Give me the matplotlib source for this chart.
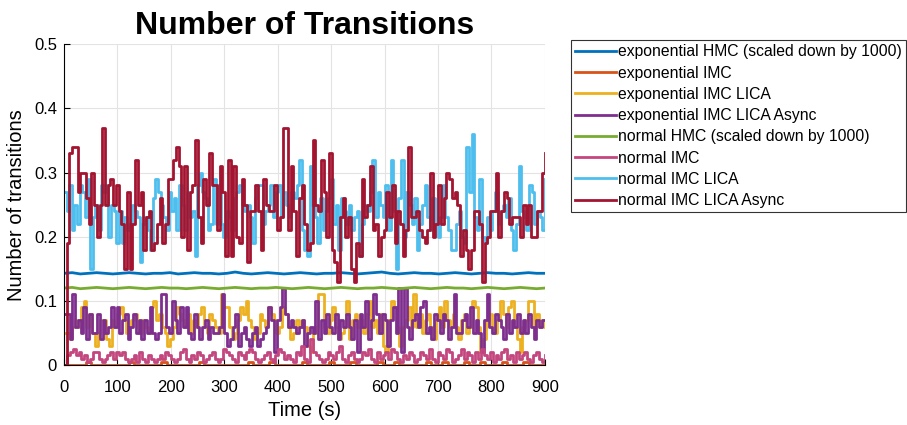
import numpy as np
import matplotlib
matplotlib.use("Agg")
import matplotlib.pyplot as plt

plt.rcParams['font.family'] = ['Liberation Sans', 'DejaVu Sans']

# transitions per sample, HMC runs already divided by 1000
exp_hmc = [0.143, 0.144, 0.142, 0.143, 0.144, 0.143, 0.142, 0.143, 0.144, 0.143,
           0.142, 0.143, 0.143, 0.144, 0.142, 0.143, 0.144, 0.143, 0.143, 0.142,
           0.143, 0.145, 0.143, 0.142, 0.143, 0.144, 0.143, 0.142, 0.143, 0.144,
           0.143, 0.142, 0.143, 0.143, 0.144, 0.143, 0.142, 0.143, 0.144, 0.145,
           0.143, 0.142, 0.143, 0.144, 0.143, 0.143, 0.142, 0.143, 0.144, 0.143,
           0.142, 0.143, 0.144, 0.143, 0.143, 0.142, 0.143, 0.144, 0.143, 0.143]

exp_imc = [0, 0, 0, 0, 0.005, 0, 0, 0, 0, 0, 0, 0, 0.005, 0, 0, 0, 0, 0, 0.005, 0,
           0, 0, 0, 0, 0, 0.005, 0, 0, 0, 0, 0, 0, 0, 0, 0.005, 0, 0, 0, 0.005, 0,
           0, 0, 0, 0, 0.005, 0, 0, 0, 0, 0.005, 0, 0, 0, 0.005, 0, 0, 0, 0, 0.005, 0,
           0, 0.005, 0, 0, 0, 0, 0, 0.005, 0, 0, 0.005, 0, 0, 0, 0.005, 0, 0, 0.005, 0, 0,
           0, 0.005, 0, 0, 0, 0.005, 0, 0, 0, 0]

exp_lica = [0.05, 0.05, 0.04, 0.06, 0.07, 0.06, 0.09, 0.10, 0.06, 0.08, 0.05, 0.03, 0.05, 0.07, 0.07,
            0.04, 0.03, 0.07, 0.06, 0.08, 0.09, 0.07, 0.05, 0.06, 0.07, 0.08, 0.06, 0.05, 0.07, 0.06,
            0.05, 0.09, 0.10, 0.07, 0.08, 0.06, 0.05, 0.03, 0.04, 0.06, 0.09, 0.08, 0.07, 0.06, 0.08,
            0.05, 0.07, 0.06, 0.08, 0.09, 0.06, 0.05, 0.08, 0.07, 0.06, 0.05, 0.11, 0.09, 0.09, 0.06,
            0.04, 0.05, 0.07, 0.09, 0.08, 0.10, 0.07, 0.06, 0.04, 0.05, 0.08, 0.07, 0.06, 0.09, 0.08,
            0.07, 0.05, 0.06, 0.09, 0.08, 0.06, 0.04, 0.05, 0.07, 0.06, 0.07, 0.06, 0.03, 0.02, 0.05,
            0.06, 0.11, 0.11, 0.06, 0.05, 0.07, 0.09, 0.06, 0.04, 0.05, 0.06, 0.10, 0.04, 0.07, 0.08,
            0.06, 0.07, 0.05, 0.08, 0.10, 0.06, 0.07, 0.05, 0.08, 0.03, 0.02, 0.07, 0.10, 0.09, 0.06,
            0.03, 0.06, 0.07, 0.09, 0.06, 0.11, 0.06, 0.08, 0.05, 0.07, 0.08, 0.06, 0.04, 0.07, 0.09,
            0.06, 0.10, 0.07, 0.06, 0.08, 0.06, 0.04, 0.07, 0.08, 0.05, 0.06, 0.10, 0.09, 0.06, 0.02,
            0.04, 0.07, 0.08, 0.06, 0.05, 0.07, 0.10, 0.08, 0.06, 0.09, 0.10, 0.06, 0.04, 0.02, 0.06,
            0.07, 0.10, 0.10, 0.06, 0.08, 0.06, 0.07, 0.06]

exp_async = [0.08, 0.08, 0.04, 0.11, 0.06, 0.07, 0.05, 0.09, 0.04, 0.08, 0.05, 0.05, 0.08, 0.04, 0.07,
             0.05, 0.06, 0.09, 0.06, 0.09, 0.05, 0.07, 0.08, 0.04, 0.06, 0.08, 0.05, 0.07, 0.04, 0.07,
             0.05, 0.09, 0.05, 0.04, 0.05, 0.11, 0.11, 0.06, 0.05, 0.10, 0.07, 0.05, 0.09, 0.06, 0.09,
             0.05, 0.04, 0.08, 0.06, 0.04, 0.06, 0.07, 0.04, 0.06, 0.05, 0.05, 0.06, 0.11, 0.05, 0.03,
             0.04, 0.06, 0.08, 0.03, 0.05, 0.06, 0.04, 0.03, 0.05, 0.06, 0.03, 0.04, 0.05, 0.06, 0.09,
             0.07, 0.02, 0.07, 0.09, 0.12, 0.08, 0.06, 0.07, 0.06, 0.05,
             0.06, 0.07, 0.03, 0.05, 0.06, 0.05, 0.10, 0.04, 0.07, 0.05, 0.08, 0.06, 0.05, 0.08, 0.04,
             0.07, 0.06, 0.08, 0.06, 0.04, 0.07, 0.02, 0.08, 0.06, 0.10, 0.04, 0.07, 0.11, 0.08, 0.05,
             0.08, 0.07, 0.03, 0.07, 0.09, 0.05, 0.12, 0.02, 0.12, 0.06, 0.04, 0.07, 0.08, 0.06, 0.09,
             0.10, 0.05, 0.06, 0.04, 0.08, 0.07, 0.05, 0.08, 0.07, 0.04, 0.06, 0.11, 0.05, 0.05, 0.07,
             0.08, 0.06, 0.09, 0.05, 0.07, 0.05, 0.02, 0.07, 0.11, 0.06, 0.05, 0.08, 0.07, 0.06, 0.04,
             0.08, 0.05, 0.07, 0.06, 0.08, 0.05, 0.07, 0.05, 0.08, 0.06, 0.04, 0.07, 0.06, 0.07, 0.07]

norm_hmc = [0.120, 0.121, 0.119, 0.120, 0.121, 0.120, 0.119, 0.120, 0.121, 0.120,
            0.119, 0.120, 0.121, 0.120, 0.120, 0.119, 0.120, 0.121, 0.120, 0.119,
            0.120, 0.121, 0.120, 0.119, 0.120, 0.120, 0.121, 0.120, 0.119, 0.120,
            0.121, 0.120, 0.119, 0.120, 0.121, 0.120, 0.119, 0.120, 0.120, 0.121,
            0.120, 0.119, 0.120, 0.121, 0.120, 0.119, 0.120, 0.121, 0.120, 0.120,
            0.119, 0.120, 0.121, 0.120, 0.119, 0.120, 0.121, 0.120, 0.119, 0.120]

norm_imc = [0.0, 0.015, 0.02, 0.025, 0.015, 0.02, 0.01, 0.015, 0.005, 0.01, 0.02, 0.02, 0.01, 0.005,
            0.01, 0.015, 0.02, 0.01, 0.02, 0.015, 0.02, 0.01, 0.005, 0.01, 0.015, 0.005, 0.02, 0.01,
            0.005, 0.015, 0.01, 0.005, 0.01, 0.015, 0.01, 0.02, 0.015, 0.01, 0.005, 0.01, 0.02, 0.025,
            0.01, 0.005, 0.015, 0.01, 0.02, 0.015, 0.005, 0.01, 0.015, 0.02, 0.01, 0.005, 0.01, 0.025,
            0.02, 0.015, 0.01, 0.005, 0.02, 0.015, 0.01, 0.02, 0.025, 0.02, 0.01, 0.005, 0.01, 0.015,
            0.02, 0.01, 0.005, 0.015, 0.025, 0.02, 0.01, 0.015, 0.01, 0.005, 0.02, 0.015, 0.03, 0.01,
            0.005, 0.04, 0.02, 0.015, 0.01, 0.005, 0.01, 0.02, 0.015, 0.01, 0.02, 0.03, 0.01, 0.005,
            0.015, 0.02, 0.01, 0.005, 0.01, 0.02, 0.015, 0.025, 0.01, 0.005, 0.02, 0.01, 0.015, 0.02,
            0.01, 0.025, 0.02, 0.01, 0.005, 0.015, 0.01, 0.02, 0.015, 0.005, 0.01, 0.02, 0.015, 0.01,
            0.025, 0.01, 0.005, 0.02, 0.015, 0.01, 0.025, 0.02, 0.005, 0.01, 0.015, 0.025, 0.01, 0.02,
            0.015, 0.005, 0.02, 0.01, 0.025, 0.015, 0.01, 0.02, 0.005, 0.015, 0.01, 0.02, 0.025, 0.01,
            0.015, 0.005, 0.02, 0.01, 0.015, 0.02, 0.01, 0.005, 0.015, 0.02, 0.01, 0.005, 0.015]

norm_lica = [0.27, 0.24, 0.28, 0.21, 0.25, 0.22, 0.28, 0.27, 0.23, 0.29, 0.15, 0.23, 0.25, 0.21, 0.28,
             0.27, 0.28, 0.20, 0.25, 0.24, 0.19, 0.24, 0.19, 0.23, 0.21, 0.22, 0.25, 0.24, 0.23, 0.16,
             0.22, 0.23, 0.21, 0.18, 0.26, 0.29, 0.27, 0.25, 0.23, 0.21, 0.27, 0.24, 0.26, 0.21, 0.28,
             0.25, 0.21, 0.27, 0.23, 0.24, 0.17, 0.28, 0.30, 0.27, 0.26, 0.21, 0.22, 0.29, 0.22, 0.28,
             0.22, 0.20, 0.24, 0.23, 0.21, 0.26, 0.27, 0.28, 0.25, 0.24, 0.25, 0.23, 0.19, 0.26, 0.28,
             0.28, 0.22, 0.24, 0.25, 0.28, 0.23, 0.27, 0.28, 0.23, 0.27, 0.25, 0.23, 0.27, 0.26, 0.28,
             0.32, 0.21, 0.18, 0.17, 0.31, 0.25, 0.23, 0.19, 0.26, 0.21, 0.24, 0.26, 0.29, 0.22, 0.25,
             0.18, 0.26, 0.24, 0.22, 0.25, 0.21, 0.23, 0.24, 0.17, 0.22, 0.25, 0.24, 0.27, 0.32, 0.23,
             0.27, 0.25,
             0.23, 0.28, 0.21, 0.32, 0.24, 0.15, 0.26, 0.32, 0.20, 0.27, 0.25, 0.22, 0.26, 0.18, 0.22,
             0.25, 0.28, 0.23, 0.21, 0.26, 0.22, 0.20, 0.23, 0.28, 0.23, 0.21, 0.18, 0.18, 0.22, 0.24,
             0.20, 0.19, 0.34, 0.27, 0.36, 0.23, 0.21, 0.29, 0.20, 0.19, 0.23, 0.21, 0.24, 0.27, 0.22,
             0.24, 0.25, 0.23, 0.26, 0.21, 0.18, 0.22, 0.31, 0.24, 0.23, 0.21, 0.28, 0.27, 0.22, 0.24,
             0.23, 0.21, 0.29]

norm_async = [0.0, 0.19, 0.33, 0.34, 0.34, 0.27, 0.30, 0.30, 0.26, 0.22, 0.30, 0.25, 0.20, 0.25, 0.37,
              0.25, 0.28, 0.29, 0.25, 0.28, 0.24, 0.22, 0.15, 0.27, 0.15, 0.22, 0.32, 0.25, 0.27, 0.18,
              0.23, 0.24, 0.18, 0.19, 0.22, 0.26, 0.19, 0.22, 0.29, 0.29, 0.32, 0.34, 0.31, 0.20, 0.31,
              0.18, 0.27, 0.28, 0.35, 0.23, 0.19, 0.29, 0.25, 0.33, 0.28, 0.28, 0.21, 0.31, 0.27, 0.17,
              0.32,
              0.17, 0.31, 0.20, 0.19, 0.29, 0.25, 0.16, 0.24, 0.24, 0.28, 0.24, 0.18, 0.29, 0.25, 0.24,
              0.24, 0.28, 0.21, 0.23, 0.37, 0.37, 0.21, 0.31, 0.24, 0.17, 0.26, 0.28, 0.22, 0.18, 0.19,
              0.35, 0.25, 0.24, 0.32, 0.27, 0.20, 0.33, 0.18, 0.16, 0.13, 0.23, 0.26, 0.20, 0.23, 0.15,
              0.13, 0.19, 0.17, 0.29, 0.23, 0.25, 0.31, 0.21,
              0.22, 0.17, 0.20, 0.21, 0.27, 0.23, 0.28, 0.19, 0.24, 0.22, 0.17, 0.21, 0.34, 0.23, 0.23,
              0.24, 0.21, 0.20, 0.19, 0.21, 0.30, 0.20, 0.22, 0.28, 0.22, 0.26, 0.30, 0.29, 0.26, 0.27,
              0.25, 0.17, 0.21, 0.18, 0.15, 0.18, 0.24, 0.24, 0.22, 0.13, 0.19, 0.20, 0.24, 0.24, 0.30,
              0.20, 0.24, 0.27, 0.26, 0.22, 0.23, 0.23, 0.23, 0.20, 0.25, 0.22, 0.25, 0.20, 0.20, 0.24,
              0.24, 0.30, 0.33]

series = [
    ("exponential HMC (scaled down by 1000)", exp_hmc, "#0072BD", False),
    ("exponential IMC", exp_imc, "#D95319", True),
    ("exponential IMC LICA", exp_lica, "#EDB120", True),
    ("exponential IMC LICA Async", exp_async, "#7E2F8E", True),
    ("normal HMC (scaled down by 1000)", norm_hmc, "#77AC30", False),
    ("normal IMC", norm_imc, "#C4467F", True),
    ("normal IMC LICA", norm_lica, "#4DBEEE", True),
    ("normal IMC LICA Async", norm_async, "#A2142F", True),
]

fig = plt.figure(figsize=(9.07, 4.25), dpi=100)
ax = fig.add_axes([0.0706, 0.141, 0.530, 0.755])

for name, vals, col, stepped in series:
    t = np.linspace(0, 900, len(vals))
    if stepped:
        ax.plot(t, vals, color=col, lw=2.0, drawstyle='steps-post', label=name)
    else:
        ax.plot(t, vals, color=col, lw=2.0, label=name)

ax.set_xlim(0, 900)
ax.set_ylim(0, 0.5)
ax.set_xticks(np.arange(0, 901, 100))
ax.set_yticks([0, 0.1, 0.2, 0.3, 0.4, 0.5])
ax.set_yticklabels(['0', '0.1', '0.2', '0.3', '0.4', '0.5'])
ax.grid(True, color='#e3e3e3', lw=0.8)
ax.set_axisbelow(True)
ax.spines['top'].set_visible(False)
ax.spines['right'].set_visible(False)
for s in ['left', 'bottom']:
    ax.spines[s].set_linewidth(0.8)
ax.tick_params(direction='in', labelsize=12, length=4, width=0.8)
ax.tick_params(axis='x', pad=11)
ax.tick_params(axis='y', pad=5)
ax.set_xlabel('Time (s)', fontsize=14.5, labelpad=4)
ax.set_ylabel('Number of transitions', fontsize=14.5, labelpad=6)
ax.set_title('Number of Transitions', fontsize=23, fontweight='bold', pad=7)

leg = ax.legend(loc='upper left', bbox_to_anchor=(0.630, 0.905), bbox_transform=fig.transFigure,
                fontsize=11.3, frameon=True, fancybox=False, handlelength=2.6,
                handletextpad=0.15, labelspacing=0.40, borderpad=0.25, borderaxespad=0)
leg.get_frame().set_edgecolor('black')
leg.get_frame().set_linewidth(0.8)
for line in leg.get_lines():
    line.set_linewidth(2.0)

fig.savefig('out.png', dpi=100)
